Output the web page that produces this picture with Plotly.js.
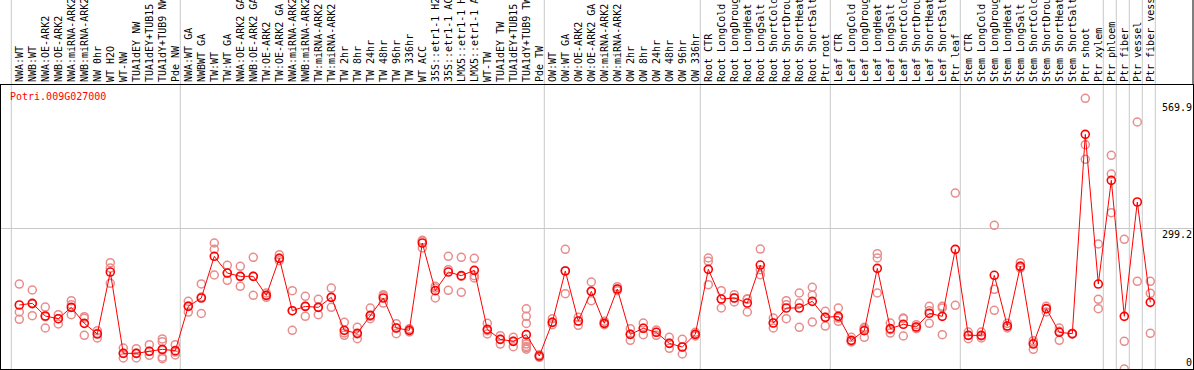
<!DOCTYPE html>
<html><head><meta charset="utf-8">
<script src="https://cdn.plot.ly/plotly-3.0.1.min.js"></script>
<style>html,body{margin:0;padding:0;background:#fff;} #chart{width:1194px;height:370px;}</style>
</head><body><div id="chart"></div>
<script>
const geneId = "Potri.009G027000";

const sampleLabels = [
  "NWA:WT","NWB:WT","NWA:OE-ARK2","NWB:OE-ARK2","NWA:miRNA-ARK2","NWB:miRNA-ARK2","NW 0hr","WT H2O","WT-NW",
  "TUA1dEY NW","TUA1dEY+TUB15 NW","TUA1dY+TUB9 NW","Pde NW",
  "NWA:WT GA","NWBWT GA","TW:WT","TW:WT GA","NWA:OE-ARK2 GA","NWB:OE-ARK2 GA","TW:OE-ARK2","TW:OE-ARK2 GA",
  "NWA:miRNA-ARK2","NWB:miRNA-ARK2","TW:miRNA-ARK2","TW:miRNA-ARK2","TW 2hr","TW 8hr","TW 24hr","TW 48hr",
  "TW 96hr","TW 336hr","WT ACC","35S::etr1-1 H2O","35S::etr1-1 ACC","LMX5::etr1-1 H2O","LMX5::etr1-1 ACC",
  "WT-TW","TUA1dEY TW","TUA1dEY+TUB15 TW","TUA1dY+TUB9 TW","Pde TW",
  "OW:WT","OW:WT GA","OW:OE-ARK2","OW:OE-ARK2 GA","OW:miRNA-ARK2","OW:miRNA-ARK2","OW 2hr","OW 8hr","OW 24hr",
  "OW 48hr","OW 96hr","OW 336hr",
  "Root CTR","Root LongCold","Root LongDrought","Root LongHeat","Root LongSalt","Root ShortCold","Root ShortDrought",
  "Root ShortHeat","Root ShortSalt","Ptr root",
  "Leaf CTR","Leaf LongCold","Leaf LongDrought","Leaf LongHeat","Leaf LongSalt","Leaf ShortCold","Leaf ShortDrought",
  "Leaf ShortHeat","Leaf ShortSalt","Ptr leaf",
  "Stem CTR","Stem LongCold","Stem LongDrought","Stem LongHeat","Stem LongSalt","Stem ShortCold","Stem ShortDrought",
  "Stem ShortHeat","Stem ShortSalt","Ptr shoot",
  "Ptr xylem","Ptr phloem","Ptr fiber","Ptr vessel","Ptr fiber vessel"
];

const meanValues = [
  136.1,139.6,112.7,107.0,131.1,97.1,74.4,206.2,33.3,33.3,37.6,41.8,39.0,
  133.2,151.0,239.6,204.1,197.0,197.0,156.6,235.3,124.0,133.2,131.1,152.4,82.2,75.8,114.1,151.0,
  87.2,82.2,267.9,166.6,206.2,198.5,209.8,84.3,63.1,58.8,73.0,27.6,
  99.2,208.4,102.0,165.1,97.1,170.1,73.7,86.5,78.0,54.5,46.8,73.7,
  211.9,148.8,151.0,140.3,221.1,97.8,129.7,129.7,143.9,109.8,
  112.0,60.9,81.5,214.0,85.8,95.0,89.3,118.4,112.0,254.4,
  71.6,71.6,199.2,91.4,218.3,53.1,128.3,78.0,75.1,499.0,
  180.7,401.2,112.0,355.1,141.7
];

const replicateValues = [
  [180.7,121.2,105.6],[168.0,138.2,113.4],[131.8,111.3,87.2],[115.5,107.0,95.7],[145.3,136.8,115.5],
  [111.3,108.0,71.6],[81.5,76.0,66.0],[226.1,214.7,182.1],[44.6,33.3,23.4],[43.2,33.3,23.4],
  [51.7,37.6,29.0],[64.0,58.0,40.0,25.0,22.0],[51.7,36.0,30.0],
  [144.0,134.0,121.0],[181.0,153.0,118.0],[267.9,254.4,199.9],[220.4,204.1,188.5],[218.3,197.0,175.8],
  [237.4,197.0,156.6],[161.6,156.6,152.4],[243.1,235.3,230.3],[166.6,124.0,82.2],[154.5,133.2,112.0],
  [148.1,131.1,115.5],[172.2,152.4,131.1],[99.2,76.5,71.6],[88.6,74.4,64.5],[129.7,112.0,107.0],
  [158.0,155.0,140.3],[96.4,87.2,75.1],[85.8,82.2,78.7],[273.6,272.0,257.3],[175.8,172.2,151.0],
  [239.6,211.2,167.3],[237.4,197.0,163.0],[235.3,198.5,193.5],[97.1,81.5,74.4],[70.9,63.1,53.1],
  [67.3,58.8,47.5],[128.0,112.0,97.0,59.0,53.0,48.0,42.0,45.0],[30.5,27.6,24.8],
  [107.0,99.2,94.3],[254.4,209.0,160.2],[109.8,102.0,92.9],[185.0,165.1,145.3],[101.3,97.1,94.3],
  [175.1,170.1,166.6],[85.8,73.7,60.9],[97.8,86.5,73.0],[82.9,78.0,71.6],[67.3,54.5,43.9],
  [63.1,46.8,31.9],[78.0,73.7,70.2],
  [236.0,228.9,179.3],[166.6,148.8,129.7],[158.0,151.0,142.5],[149.5,148.1,121.2],[255.1,211.2,200.6],
  [108.4,97.8,87.2],[145.3,136.8,107.0],[161.6,140.3,88.6],[173.6,156.6,99.9],[122.6,109.8,91.4],
  [129.7,108.4,101.3],[67.3,58.8,57.4],[88.6,85.8,67.3],[245.2,236.0,161.6],[97.8,83.6,76.5],
  [108.4,107.0,70.2],[94.3,89.3,85.8],[133.2,124.0,97.1],[133.2,129.7,73.0],[374.2,135.4],
  [78.7,71.6,64.5],[78.7,70.2,65.9],[305.5,169.4,124.7],[97.1,91.4,87.2],[226.1,218.3,214.7],
  [60.2,55.3,41.8],[133.2,128.3,121.2],[87.2,80.1,60.9],[76.0,75.1,74.0],[575.5,477.0,445.8],
  [265.8,148.1,128.3],[454.3,414.6,332.4],[275.7,58.8,0.0],[525.2,186.4],[186.4,160.9,75.8]
];

const groupSizes = [13, 28, 12, 10, 10, 11, 1, 1, 1, 1];
const yTickValues = [0, 299.2, 569.9];
const yTickLabels = ["0", "299.2", "569.9"];

const W = 1194, H = 370;
const mL = 1, mR = 1, mT = 85, mB = 1;
const plotW = W - mL - mR, plotH = H - mT - mB;
const colPx = 13;
const x0 = -1.408;
const xRange = [x0, x0 + plotW / colPx];
const yRange = [0, 603.9];

const idx = sampleLabels.map((_, i) => i);

const repX = [], repY = [];
replicateValues.forEach((arr, i) => arr.forEach(v => { repX.push(i); repY.push(v); }));

const mono = "DejaVu Sans Mono, monospace";

const traces = [
  {
    type: "scatter", mode: "markers", x: repX, y: repY, hoverinfo: "skip",
    marker: { symbol: "circle-open", size: 8, color: "rgb(232,140,140)", line: { width: 1.5, color: "rgb(232,140,140)" } }
  },
  {
    type: "scatter", mode: "lines+markers", x: idx, y: meanValues,
    line: { color: "#ff0000", width: 1 },
    marker: { symbol: "circle-open", size: 8, color: "#ff0000", line: { width: 1.6, color: "#ff0000" } }
  }
];

// group separator lines
const shapes = [];
const topExt = 1 + mT / plotH;
let b = -1;
const bounds = [b];
groupSizes.forEach(s => { b += s; bounds.push(b); });
bounds.forEach(bi => {
  shapes.push({ type: "line", xref: "x", yref: "paper", x0: bi + 5 / 13, x1: bi + 5 / 13, y0: 0, y1: topExt,
    line: { color: "#c8c8c8", width: 1 }, layer: "below" });
});
shapes.push({ type: "line", xref: "paper", yref: "paper", x0: 1, x1: 1, y0: 1, y1: topExt, line: { color: "#000", width: 1 } });

const annotations = [
  { text: geneId, xref: "paper", yref: "paper", x: 7 / plotW, y: 1 - 11.7 / plotH, xanchor: "left", yanchor: "middle",
    showarrow: false, font: { family: mono, size: 10, color: "#ff0000" } }
];
yTickValues.forEach((v, i) => {
  annotations.push({ text: yTickLabels[i], xref: "paper", yref: "y", x: 1, y: v, xanchor: "right",
    yanchor: v === 0 ? "bottom" : "top", showarrow: false, borderpad: 0,
    font: { family: mono, size: 10, color: "#000" } });
});

const layout = {
  width: W, height: H,
  margin: { l: mL, r: mR, t: mT, b: mB, pad: 0 },
  paper_bgcolor: "#fff", plot_bgcolor: "#fff",
  showlegend: false,
  xaxis: {
    range: xRange, side: "top", tickmode: "array", tickvals: idx, ticktext: sampleLabels,
    tickangle: -90, tickfont: { family: mono, size: 10, color: "#000" },
    ticks: "", showgrid: false, zeroline: false, showline: true, mirror: true,
    linecolor: "#000", linewidth: 1, automargin: false, fixedrange: true
  },
  yaxis: {
    range: yRange, tickmode: "array", tickvals: [299.2], showticklabels: false, ticks: "",
    showgrid: true, gridcolor: "#c8c8c8", gridwidth: 1, zeroline: false,
    showline: true, mirror: true, linecolor: "#000", linewidth: 1, automargin: false, fixedrange: true
  },
  shapes: shapes,
  annotations: annotations
};

Plotly.newPlot("chart", traces, layout, { displayModeBar: false, staticPlot: true });
</script>
</body></html>
